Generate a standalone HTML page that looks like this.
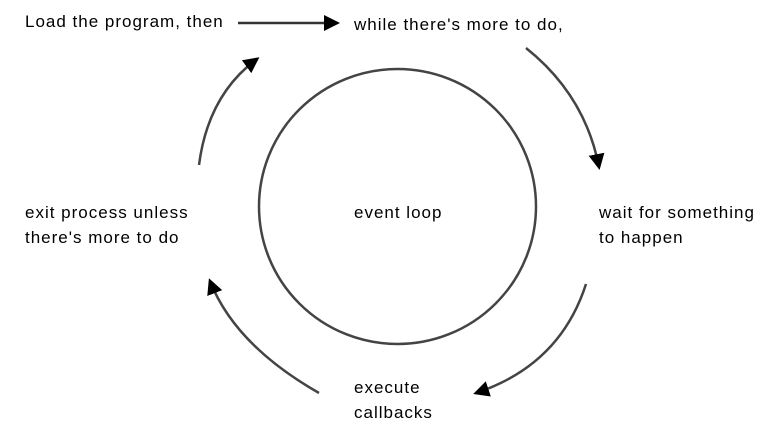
<!DOCTYPE html>
<html><head><meta charset="utf-8"><style>
html,body{margin:0;padding:0;background:#fff;}
body{width:781px;height:441px;position:relative;overflow:hidden;font-family:"Liberation Sans",Arial,sans-serif;}
.t{position:absolute;font-size:17px;line-height:25px;color:#000;white-space:nowrap;letter-spacing:1px;}
svg{position:absolute;left:0;top:0;}
</style></head><body>
<svg width="781" height="441" viewBox="0 0 781 441">
<defs>
<marker id="b" markerWidth="16" markerHeight="16" refX="13" refY="8" orient="auto" markerUnits="userSpaceOnUse">
<path d="M0,0 L16,8 L0,16 Z" fill="#000"/>
</marker>
</defs>
<ellipse cx="397.5" cy="206.5" rx="138.5" ry="137.5" fill="none" stroke="#444" stroke-width="2.5"/>
<line x1="238" y1="23" x2="337" y2="23" stroke="#333" stroke-width="2.5" marker-end="url(#b)"/>
<path d="M526,48 Q585,95 599,167" fill="none" stroke="#444" stroke-width="2.5" marker-end="url(#b)"/>
<path d="M586,284 Q560,365 476,393" fill="none" stroke="#444" stroke-width="2.5" marker-end="url(#b)"/>
<path d="M319,393 Q235,345 210,281" fill="none" stroke="#444" stroke-width="2.5" marker-end="url(#b)"/>
<path d="M199,165 Q208,95 257,59" fill="none" stroke="#444" stroke-width="2.5" marker-end="url(#b)"/>
</svg>
<div class="t" style="left:25px;top:9px;">Load the program, then</div>
<div class="t" style="left:354px;top:12px;">while there's more to do,</div>
<div class="t" style="left:354px;top:200px;">event loop</div>
<div class="t" style="left:599px;top:200px;">wait for something<br>to happen</div>
<div class="t" style="left:25px;top:200px;">exit process unless<br>there's more to do</div>
<div class="t" style="left:354px;top:375px;">execute<br>callbacks</div>
</body></html>
